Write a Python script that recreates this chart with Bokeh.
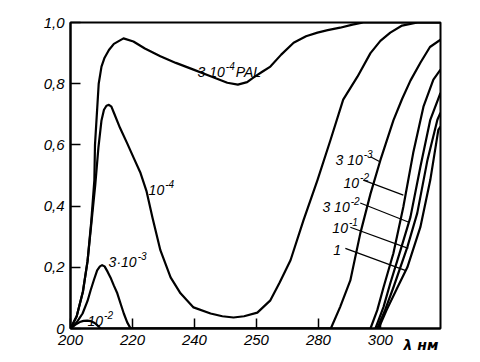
from bokeh.plotting import figure
from bokeh.models import Range1d, Label, FixedTicker
from bokeh.embed import file_html
from bokeh.resources import INLINE

# ---- data (wavelength nm, absorbance fraction) ----
wl_pal = [200, 202, 204, 205.5, 206.7, 207.7, 207.9, 209.1, 210, 211, 212.4, 214, 217.1, 220.3, 224, 229, 234,
          239.7, 245, 250.6, 254, 257, 259, 262, 264.5, 268, 272, 276, 279.7, 283, 287, 291, 294.5, 319.4]
a_pal = [0, 0.04, 0.12, 0.22, 0.35, 0.485, 0.6, 0.8, 0.856, 0.885, 0.91, 0.93, 0.948, 0.938, 0.915, 0.89, 0.868,
         0.846, 0.825, 0.803, 0.797, 0.805, 0.82, 0.84, 0.856, 0.895, 0.934, 0.955, 0.967, 0.975, 0.983, 0.993, 1.0, 1.0]

wl_1e4 = [200, 202, 204, 205.5, 206.7, 208, 209, 210, 210.8, 211.6, 212.4, 213.2, 214, 216, 218.3, 220.5, 222.6,
          224.5, 226.5, 229, 232.3, 235.5, 239.7, 245.2, 249, 252.6, 256, 260.3, 264.5, 267.5, 271, 275.2, 279.7,
          283.9, 288, 292.6, 296.8, 300, 303.2, 307, 312, 319.4]
a_1e4 = [0, 0.04, 0.12, 0.22, 0.34, 0.47, 0.59, 0.68, 0.715, 0.728, 0.731, 0.725, 0.705, 0.655, 0.605, 0.555, 0.508,
         0.45, 0.36, 0.256, 0.167, 0.115, 0.069, 0.049, 0.04, 0.036, 0.04, 0.052, 0.092, 0.15, 0.223, 0.354, 0.485,
         0.616, 0.748, 0.823, 0.9, 0.94, 0.967, 0.99, 1.0, 1.0]

wl_3e3 = [200, 202, 203.9, 205.5, 206.5, 207.6, 208.6, 209.5, 210.2, 211, 212, 212.9, 214, 215.1, 216.2, 217.2,
          218.3, 219.4, 284, 287, 290.3, 293.5, 296.8, 300, 304.2, 307, 309.7, 313, 316, 319.4]
a_3e3 = [0, 0.02, 0.049, 0.09, 0.125, 0.16, 0.19, 0.203, 0.207, 0.203, 0.185, 0.167, 0.14, 0.115, 0.08, 0.049,
         0.02, 0, 0, 0.07, 0.157, 0.31, 0.44, 0.55, 0.68, 0.75, 0.81, 0.87, 0.92, 0.944]

wl_1e2 = [200, 201.5, 203, 204.2, 205.4, 206.6, 207.8, 208.8, 209.7, 296.8, 299, 301, 304.2, 307.4, 310.6, 313.9,
          317.1, 319.4]
a_1e2 = [0, 0.012, 0.021, 0.025, 0.026, 0.024, 0.018, 0.009, 0, 0, 0.06, 0.134, 0.246, 0.397, 0.574, 0.725,
         0.813, 0.846]

wl_3e2 = [298.4, 301, 303.2, 306.5, 309.7, 312.9, 316.1, 319.4]
a_3e2 = [0, 0.07, 0.148, 0.256, 0.364, 0.528, 0.682, 0.77]

wl_1e1 = [299, 301.5, 304.2, 308.7, 311.9, 315.2, 318.4, 319.4]
a_1e1 = [0, 0.06, 0.134, 0.266, 0.377, 0.551, 0.682, 0.705]

wl_1 = [299.4, 302, 305.5, 308.7, 312.9, 316.1, 318.7, 319.4]
a_1 = [0, 0.06, 0.134, 0.2, 0.331, 0.485, 0.649, 0.66]

x_ticks = [200, 220, 240, 260, 280, 300]
x_tick_labels = ["200", "220", "240", "250", "280", "300"]
y_ticks = [0, 0.2, 0.4, 0.6, 0.8, 1.0]
y_tick_labels = ["0", "0,2", "0,4", "0,6", "0,8", "1,0"]
x_axis_title = "λ нм"

# curve labels: (base, exponent, suffix)
curve_labels = [("3 10", "-4", "PAL"), ("10", "-4", ""), ("3·10", "-3", ""), ("10", "-2", ""),
                ("3 10", "-3", ""), ("10", "-2", ""), ("3 10", "-2", ""), ("10", "-1", ""), ("1", "", "")]

# ---- figure ----
p = figure(frame_width=370, frame_height=306, output_backend="svg", toolbar_location=None,
           x_range=Range1d(200, 319.4), y_range=Range1d(0, 1.0),
           min_border_left=70, min_border_right=40, min_border_top=22, min_border_bottom=33)
p.background_fill_color = "white"
p.border_fill_color = "white"
p.xgrid.visible = False
p.ygrid.visible = False
p.outline_line_color = "black"
p.outline_line_width = 2
p.outline_line_alpha = 1

for ax, ticks, labels in ((p.xaxis[0], x_ticks, x_tick_labels), (p.yaxis[0], y_ticks, y_tick_labels)):
    ax.ticker = FixedTicker(ticks=ticks)
    ax.major_label_overrides = {t: l for t, l in zip(ticks, labels)}
    ax.major_tick_in = 10
    ax.major_tick_out = 0
    ax.minor_tick_in = 0
    ax.minor_tick_out = 0
    ax.major_tick_line_color = "black"
    ax.major_tick_line_width = 1.5
    ax.axis_line_color = "black"
    ax.axis_line_width = 2
    ax.major_label_text_font = "Liberation Sans"
    ax.major_label_text_font_style = "italic"
    ax.major_label_text_font_size = "15px"
    ax.major_label_text_color = "black"
    ax.major_label_standoff = 6

xa = p.xaxis[0]
xa.axis_label = x_axis_title + "\u00a0" * 8
xa.axis_label_align = "end"
xa.axis_label_standoff = -11
xa.axis_label_text_font = "DejaVu Sans"
xa.axis_label_text_font_style = "bold italic"
xa.axis_label_text_font_size = "14px"
xa.axis_label_text_color = "black"

lw = 2.2
for xs, ys in ((wl_pal, a_pal), (wl_1e4, a_1e4), (wl_3e3, a_3e3), (wl_1e2, a_1e2),
               (wl_3e2, a_3e2), (wl_1e1, a_1e1), (wl_1, a_1)):
    p.line(xs, ys, line_color="black", line_width=lw, line_join="round")

# approximate advance widths (em) for Liberation Sans
EM = {" ": 0.278, "·": 0.333, "-": 0.333, "P": 0.667, "A": 0.667, "L": 0.556}
def text_w(s, size):
    return sum(EM.get(c, 0.556) for c in s) * size

BASE, SUP = 14, 10
def add_label(x, y, base, sup, suffix):
    style = dict(text_font="Liberation Sans", text_font_style="italic", text_color="black",
                 text_baseline="alphabetic")
    p.add_layout(Label(x=x, y=y, text=base, text_font_size=f"{BASE}px", **style))
    off = text_w(base, BASE) + 1
    if sup:
        p.add_layout(Label(x=x, y=y, x_offset=off, y_offset=6, text=sup, text_font_size=f"{SUP}px", **style))
        off += text_w(sup, SUP) + 1
    if suffix:
        p.add_layout(Label(x=x, y=y, x_offset=off, text=suffix, text_font_size=f"{BASE}px", **style))

label_pos = [(241.0, 0.839), (225.2, 0.452), (212.3, 0.216), (205.5, 0.025),
             (285.5, 0.551), (288.1, 0.475), (281.3, 0.397), (284.5, 0.328), (284.8, 0.256)]
for (lx, ly), (b, s, suf) in zip(label_pos, curve_labels):
    add_label(lx, ly, b, s, suf)

# leader lines
leaders = [((296.8, 0.561), (300.0, 0.544)), ((294.5, 0.485), (307.4, 0.436)),
           ((293.5, 0.41), (309.0, 0.348)), ((290.3, 0.331), (309.0, 0.262)),
           ((288.7, 0.262), (308.0, 0.19))]
for (x0, y0), (x1, y1) in leaders:
    p.line([x0, x1], [y0, y1], line_color="black", line_width=1.2)

open("out.html", "w").write(file_html(p, INLINE))
